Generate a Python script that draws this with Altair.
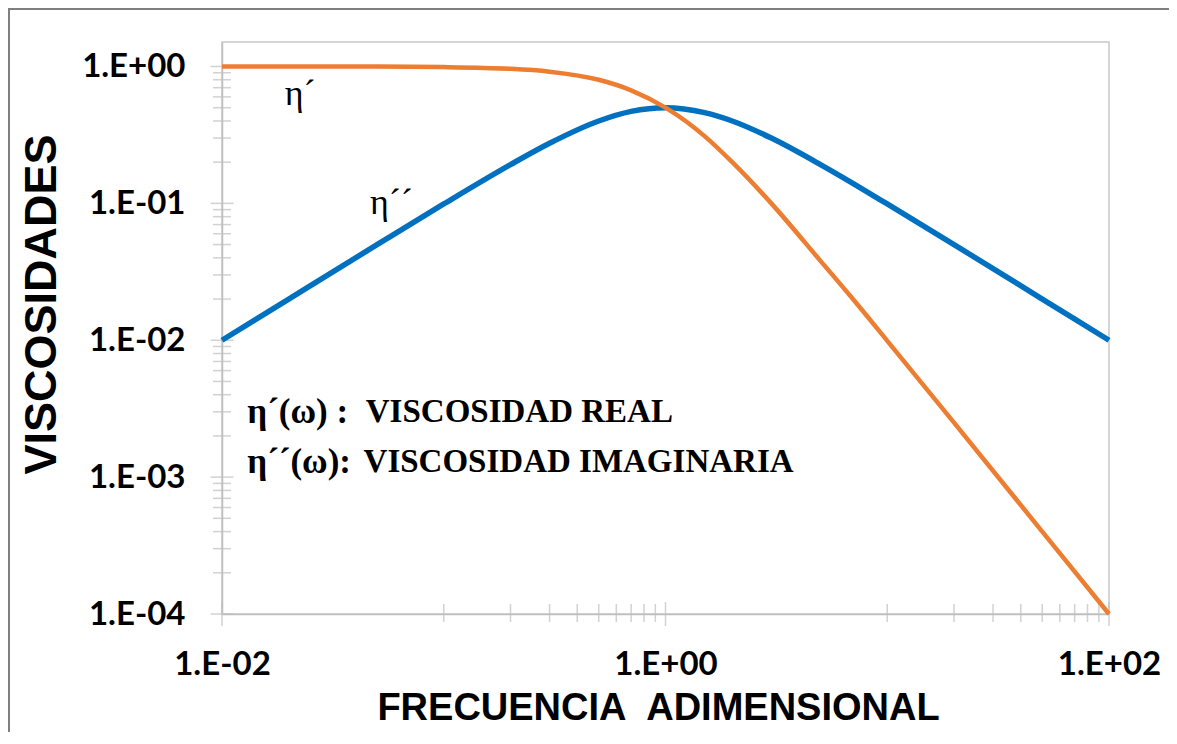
import math
import altair as alt
import pandas as pd

# ---- data ----
freq = [0.01, 0.02, 0.05, 0.1, 0.2, 0.3, 0.5, 0.7, 1.0, 1.5, 2.0, 3.0, 5.0, 7.0, 10.0, 20.0, 50.0, 100.0]
eta_real = [1.0, 1.0, 0.998, 0.99, 0.962, 0.917, 0.80, 0.67, 0.50, 0.31, 0.20, 0.10, 0.038, 0.020, 0.0099, 0.0025, 0.0004, 0.0001]
eta_imag = [0.0100, 0.0200, 0.0499, 0.099, 0.192, 0.275, 0.40, 0.47, 0.50, 0.46, 0.40, 0.30, 0.192, 0.14, 0.099, 0.050, 0.020, 0.010]

x_tick_values = [0.01, 1.0, 100.0]
x_tick_labels = ["1.E-02", "1.E+00", "1.E+02"]
x_minor_ticks = [0.1, 0.2, 0.3, 0.4, 0.5, 0.6, 0.7, 0.8, 0.9, 10, 20, 30, 40, 50, 60, 70, 80, 90]
y_tick_values = [0.0001, 0.001, 0.01, 0.1, 1.0]
y_tick_labels = ["1.E-04", "1.E-03", "1.E-02", "1.E-01", "1.E+00"]
y_minor_ticks = [
    0.0002, 0.0003, 0.0004, 0.0005, 0.0006, 0.0007, 0.0008, 0.0009,
    0.002, 0.003, 0.004, 0.005, 0.006, 0.007, 0.008, 0.009,
    0.02, 0.03, 0.04, 0.05, 0.06, 0.07, 0.08, 0.09,
    0.2, 0.3, 0.4, 0.5, 0.6, 0.7, 0.8, 0.9,
]

curve_labels = ["η´", "η´´"]
curve_label_x = [0.0225, 0.058]
curve_label_y = [0.63, 0.1]

legend_prefix = ["η´(ω) :", "η´´(ω):"]
legend_text = ["VISCOSIDAD REAL", "VISCOSIDAD IMAGINARIA"]
legend_x_prefix = [0.013, 0.013]
legend_x_text = [0.0445, 0.0435]
legend_y = [0.00298, 0.00128]

x_title = "FRECUENCIA\u00a0 ADIMENSIONAL"
y_title = "VISCOSIDADES"

ORANGE = "#ED7D31"
BLUE = "#0070C0"
GRAY = "#BFBFBF"

W, H = 887, 572
PAD = {"left": 214, "top": 34, "right": 60, "bottom": 118}


def label_expr(vals, labels):
    parts = [
        f"abs(log(datum.value)/LN10 - ({math.log10(v):.4f})) < 0.01 ? '{l}'"
        for v, l in zip(vals, labels)
    ]
    return " : ".join(parts) + " : ''"


xscale = alt.Scale(type="log", domain=[0.01, 100], nice=False)
yscale = alt.Scale(type="log", domain=[0.0001, 1.51], nice=False)

xaxis = alt.Axis(
    values=x_tick_values,
    labelExpr=label_expr(x_tick_values, x_tick_labels),
    title=x_title,
    grid=False,
    ticks=False,
    domainColor=GRAY,
    domainWidth=1.5,
    labelFont="Lato",
    labelFontWeight="bold",
    labelFontSize=33,
    labelColor="black",
    labelPadding=50,
    labelBaseline="middle",
    labelFlush=False,
    labelOverlap=False,
    labelBound=False,
    titleFont="Liberation Sans",
    titleFontWeight="bold",
    titleFontSize=38,
    titleColor="black",
    titleBaseline="middle",
    titleX=436,
    titleY=94,
)
yaxis = alt.Axis(
    values=y_tick_values,
    labelExpr=label_expr(y_tick_values, y_tick_labels),
    title=y_title,
    grid=False,
    ticks=False,
    domainColor=GRAY,
    domainWidth=1.5,
    labelFont="Lato",
    labelFontWeight="bold",
    labelFontSize=33,
    labelColor="black",
    labelPadding=37,
    labelOverlap=False,
    labelFlush=False,
    labelBound=False,
    titleFont="Liberation Sans",
    titleFontWeight="bold",
    titleFontSize=45,
    titleColor="black",
    titleAngle=270,
    titleAlign="center",
    titleBaseline="middle",
    titleX=-181,
    titleY=262,
)


def X():
    return alt.X("w:Q", scale=xscale, axis=xaxis)


def Y():
    return alt.Y("eta:Q", scale=yscale, axis=yaxis)


df_imag = pd.DataFrame({"w": freq, "eta": eta_imag})
df_real = pd.DataFrame({"w": freq, "eta": eta_real})

line_imag = alt.Chart(df_imag).mark_line(color=BLUE, strokeWidth=5.5, interpolate="monotone").encode(x=X(), y=Y())
line_real = alt.Chart(df_real).mark_line(color=ORANGE, strokeWidth=4.5, interpolate="monotone").encode(x=X(), y=Y())

# axis tick marks crossing the axis lines
y_minor = alt.Chart(pd.DataFrame({"eta": y_minor_ticks})).mark_tick(
    orient="horizontal", size=18, thickness=1.5, color=GRAY
).encode(y=Y(), x=alt.value(0))
y_major = alt.Chart(pd.DataFrame({"eta": y_tick_values})).mark_tick(
    orient="horizontal", size=23, thickness=1.5, color=GRAY
).encode(y=Y(), x=alt.value(0))
x_minor = alt.Chart(pd.DataFrame({"w": x_minor_ticks})).mark_tick(
    orient="vertical", size=18, thickness=1.5, color=GRAY
).encode(x=X(), y=alt.value(H - 1))
x_major = alt.Chart(pd.DataFrame({"w": x_tick_values})).mark_tick(
    orient="vertical", size=24, thickness=1.5, color=GRAY
).encode(x=X(), y=alt.value(H))

curve_txt = alt.Chart(pd.DataFrame({"w": curve_label_x, "eta": curve_label_y, "t": curve_labels})).mark_text(
    font="Liberation Serif", fontSize=36, color="black", align="center", baseline="middle"
).encode(x=X(), y=Y(), text="t:N")

leg_prefix = alt.Chart(pd.DataFrame({"w": legend_x_prefix, "eta": legend_y, "t": legend_prefix})).mark_text(
    font="Liberation Serif", fontSize=35, fontWeight="bold", color="black", align="left", baseline="middle"
).encode(x=X(), y=Y(), text="t:N")
leg_text = alt.Chart(pd.DataFrame({"w": legend_x_text, "eta": legend_y, "t": legend_text})).mark_text(
    font="Liberation Serif", fontSize=33, fontWeight="bold", color="black", align="left", baseline="middle"
).encode(x=X(), y=Y(), text="t:N")

# outer chart-area frame (top and left edges)
one = pd.DataFrame({"a": [0]})
frame_top = alt.Chart(one).mark_rule(color="#7F7F7F", strokeWidth=2).encode(
    x=alt.value(-PAD["left"]), x2=alt.value(W + PAD["right"]), y=alt.value(-PAD["top"] + 1)
)
frame_left = alt.Chart(one).mark_rule(color="#7F7F7F", strokeWidth=2).encode(
    x=alt.value(-PAD["left"] + 1), y=alt.value(-PAD["top"]), y2=alt.value(H + PAD["bottom"])
)

chart = (
    alt.layer(
        frame_top, frame_left,
        y_minor, y_major, x_minor, x_major,
        line_imag, line_real,
        curve_txt, leg_prefix, leg_text,
    )
    .properties(
        width=W,
        height=H,
        padding=PAD,
        autosize=alt.AutoSizeParams(type="none"),
        background="white",
    )
    .configure_view(stroke="#C8C8C8", strokeWidth=1.5)
)

chart.save("out.html", embed_options={"renderer": "svg", "actions": False})
